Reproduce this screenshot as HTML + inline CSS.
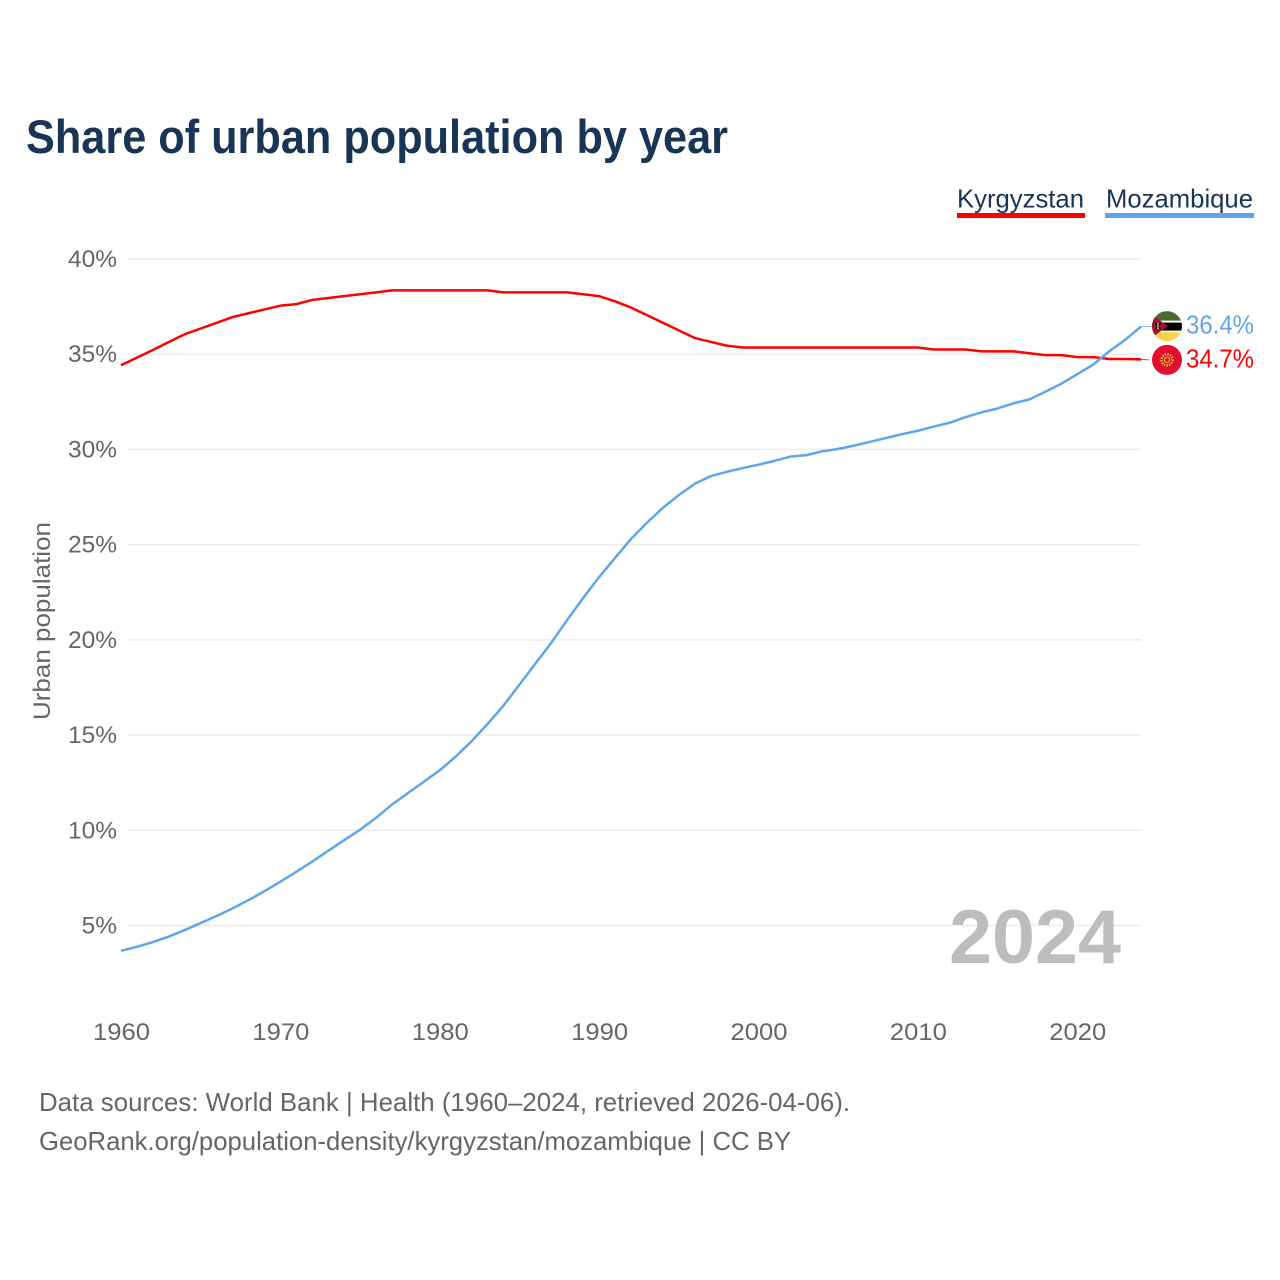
<!DOCTYPE html>
<html lang="en">
<head>
<meta charset="utf-8">
<title>Share of urban population by year</title>
<style>
html,body{margin:0;padding:0;background:#fff;width:1280px;height:1280px;overflow:hidden}
svg{display:block}
text{font-family:"Liberation Sans",sans-serif}
</style>
</head>
<body>
<svg id="chart" xmlns="http://www.w3.org/2000/svg" width="1280" height="1280" viewBox="0 0 1280 1280">
  <defs>
    <clipPath id="clip-moz"><circle cx="0" cy="0" r="15"></circle></clipPath>
  </defs>
  <text x="26" y="153" font-size="47" font-weight="700" fill="#193556" textLength="702" lengthAdjust="spacingAndGlyphs">Share of urban population by year</text>

  <g>
    <text x="957" y="207.5" font-size="26" fill="#193556" textLength="127" lengthAdjust="spacingAndGlyphs">Kyrgyzstan</text>
    <rect x="957" y="213" width="128" height="5" fill="#ff0000"></rect>
  </g>
  <g>
    <text x="1106" y="207.5" font-size="26" fill="#193556" textLength="147" lengthAdjust="spacingAndGlyphs">Mozambique</text>
    <rect x="1105" y="213" width="149" height="5" fill="#60a5ec"></rect>
  </g>

  <g id="grid"></g>
  <g id="y-ticks"></g>
  <g id="x-ticks"></g>

  <text transform="translate(50 720) rotate(-90)" x="0" y="0" font-size="24" fill="#666666" textLength="198" lengthAdjust="spacingAndGlyphs">Urban population</text>

  <text x="949" y="963" font-size="76" font-weight="700" fill="#bdbdbd" textLength="172" lengthAdjust="spacingAndGlyphs">2024</text>

  <g id="series"></g>

  <g id="flag-moz">
    <g clip-path="url(#clip-moz)">
      <rect x="-15" y="-15" width="30" height="10" fill="#4a6a2e"></rect>
      <rect x="-15" y="-5.5" width="30" height="12" fill="#ffffff"></rect>
      <rect x="-15" y="-3.5" width="30" height="8" fill="#000000"></rect>
      <rect x="-15" y="6" width="30" height="9" fill="#fcd34d"></rect>
      <polygon points="-16,-12 1,0 -16,12" fill="#a0142c"></polygon>
      <path d="M-11.5 -3L-6.5 3M-6.5 -3L-11.5 3" stroke="#000000" stroke-width="1.4"></path>
      <path d="M-9 -3V3" stroke="#ffffff" stroke-width="1"></path>
    </g>
  </g>
  <g id="flag-kgz">
    <circle cx="0" cy="0" r="15" fill="#de0f2f"></circle>
    <circle cx="0" cy="0" r="5.5" fill="none" stroke="#f7c72a" stroke-width="2.4" stroke-dasharray="1.4 1.2"></circle>
    <circle cx="0" cy="0" r="2.6" fill="none" stroke="#f7c72a" stroke-width="1"></circle>
  </g>
  <text id="value-moz" x="1186" font-size="25.5" fill="#60a5ec" textLength="68" lengthAdjust="spacingAndGlyphs"></text>
  <text id="value-kgz" x="1186" font-size="25.5" fill="#ff0000" textLength="68" lengthAdjust="spacingAndGlyphs"></text>

  <text x="39" y="1111" font-size="26" fill="#666666" textLength="811" lengthAdjust="spacingAndGlyphs">Data sources: World Bank | Health (1960–2024, retrieved 2026-04-06).</text>
  <text x="39" y="1150" font-size="26" fill="#666666" textLength="752" lengthAdjust="spacingAndGlyphs">GeoRank.org/population-density/kyrgyzstan/mozambique | CC BY</text>
</svg>
<script>
const years = [1960,1961,1962,1963,1964,1965,1966,1967,1968,1969,1970,1971,1972,1973,1974,1975,1976,1977,1978,1979,1980,1981,1982,1983,1984,1985,1986,1987,1988,1989,1990,1991,1992,1993,1994,1995,1996,1997,1998,1999,2000,2001,2002,2003,2004,2005,2006,2007,2008,2009,2010,2011,2012,2013,2014,2015,2016,2017,2018,2019,2020,2021,2022,2023,2024];
const kyrgyzstan = [34.42,34.82,35.22,35.64,36.05,36.35,36.65,36.95,37.15,37.35,37.55,37.63,37.85,37.95,38.05,38.15,38.25,38.35,38.35,38.35,38.35,38.35,38.35,38.35,38.25,38.25,38.25,38.25,38.25,38.15,38.05,37.78,37.45,37.05,36.65,36.25,35.85,35.65,35.45,35.35,35.35,35.35,35.35,35.35,35.35,35.35,35.35,35.35,35.35,35.35,35.35,35.25,35.25,35.25,35.15,35.15,35.15,35.05,34.95,34.95,34.85,34.85,34.75,34.75,34.73];
const mozambique = [3.67,3.88,4.13,4.42,4.76,5.13,5.5,5.9,6.33,6.8,7.3,7.82,8.36,8.92,9.48,10.03,10.65,11.35,11.95,12.55,13.15,13.87,14.68,15.58,16.55,17.65,18.75,19.85,21.05,22.2,23.3,24.3,25.3,26.15,26.93,27.6,28.2,28.6,28.82,29.02,29.2,29.4,29.62,29.7,29.9,30.03,30.2,30.4,30.6,30.8,30.98,31.2,31.4,31.7,31.95,32.15,32.42,32.63,33.03,33.45,33.95,34.45,35.15,35.75,36.45];
const yTickValues = [5,10,15,20,25,30,35,40];
const xTickValues = [1960,1970,1980,1990,2000,2010,2020];
const yTickLabels = ["5%","10%","15%","20%","25%","30%","35%","40%"];
const xTickLabels = ["1960","1970","1980","1990","2000","2010","2020"];
const printedValues = ["34.7%","36.4%"];

const NS = "http://www.w3.org/2000/svg";
const xScale = function (year) { return 121 + (year - 1960) * (1141 - 121) / 64; };
const yScale = function (v) { return 925.5 - (v - 5) * (925.5 - 259) / 35; };

function make(tag, attrs, parent) {
  const el = document.createElementNS(NS, tag);
  Object.keys(attrs).forEach(function (k) { el.setAttribute(k, attrs[k]); });
  parent.appendChild(el);
  return el;
}

const gridGroup = document.getElementById("grid");
const yGroup = document.getElementById("y-ticks");
yTickValues.forEach(function (v, i) {
  const line = make("line", {x1: 128, x2: 1141, y1: yScale(v), y2: yScale(v), stroke: "#ececec", "stroke-width": 1.5}, gridGroup);
  
  
  const label = make("text", {x: 117, y: yScale(v) + 8, "text-anchor": "end", "font-size": 24.5, fill: "#666666"}, yGroup);
  label.textContent = yTickLabels[i];
  
  
});

const xGroup = document.getElementById("x-ticks");
xTickValues.forEach(function (yr, i) {
  const label = make("text", {x: xScale(yr) - 28, y: 1040, "font-size": 24.5, fill: "#666666", textLength: 57, lengthAdjust: "spacingAndGlyphs"}, xGroup);
  label.textContent = xTickLabels[i];
  
  
});

function pathFor(values) {
  return values.map(function (v, i) {
    return (i ? "L" : "M") + xScale(years[i]).toFixed(2) + " " + yScale(v).toFixed(2);
  }).join(" ");
}

const seriesGroup = document.getElementById("series");
const kgzLine = make("path", {d: pathFor(kyrgyzstan), fill: "none", stroke: "#ff0000", "stroke-width": 2.5, "stroke-linejoin": "round"}, seriesGroup);


const mozLine = make("path", {d: pathFor(mozambique), fill: "none", stroke: "#60a5ec", "stroke-width": 2.5, "stroke-linejoin": "round"}, seriesGroup);



const kgzEndY = yScale(kyrgyzstan[kyrgyzstan.length - 1]);
const mozEndY = yScale(mozambique[mozambique.length - 1]);
const endX = xScale(years[years.length - 1]);

const kgzLead = make("line", {x1: endX, x2: endX + 8, y1: kgzEndY, y2: kgzEndY + 0.5, stroke: "#ff0000", "stroke-width": 1, opacity: 0.8}, seriesGroup);


const mozLead = make("line", {x1: endX, x2: endX + 11, y1: mozEndY, y2: mozEndY, stroke: "#60a5ec", "stroke-width": 1, opacity: 0.8}, seriesGroup);



document.getElementById("flag-moz").setAttribute("transform", "translate(1167 " + (mozEndY - 0.5) + ")");
document.getElementById("flag-kgz").setAttribute("transform", "translate(1167 " + (kgzEndY + 0.5) + ")");

const kgzValue = document.getElementById("value-kgz");
kgzValue.setAttribute("y", kgzEndY + 8);
kgzValue.textContent = printedValues[0];
const mozValue = document.getElementById("value-moz");
mozValue.setAttribute("y", mozEndY + 7);
mozValue.textContent = printedValues[1];
</script>
</body>
</html>
